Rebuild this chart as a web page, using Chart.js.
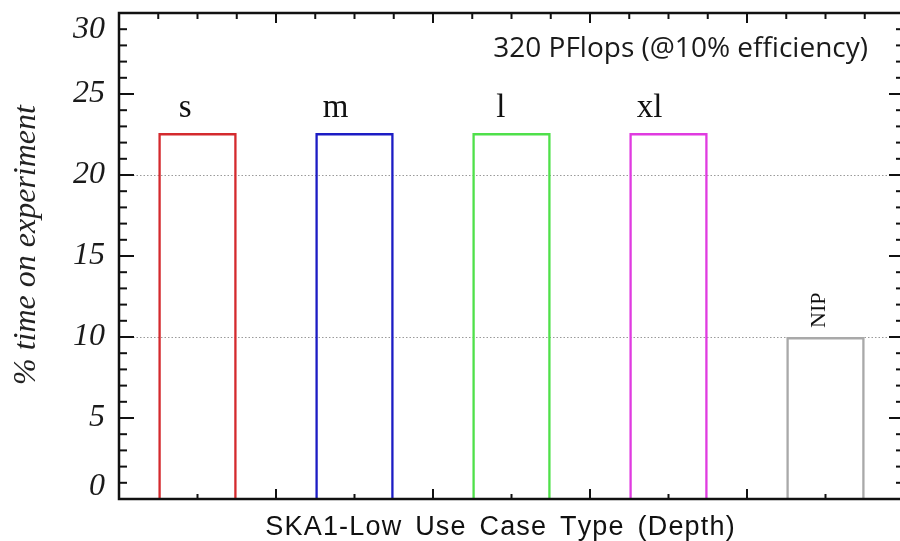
<!DOCTYPE html>
<html>
<head>
<meta charset="utf-8">
<script src="https://cdn.jsdelivr.net/npm/chart.js@4/dist/chart.umd.min.js"></script>
<style>
  html, body { margin: 0; padding: 0; background: #fff; overflow: hidden; }
  #wrap { width: 904px; height: 541px; }
</style>
</head>
<body>
<div id="wrap"><canvas id="c"></canvas></div>
<script>
// Use-case categories and the share of observing time each one takes
const categories = ['s', 'm', 'l', 'xl', 'NIP'];
const timeOnExperiment = [22.6, 22.6, 22.6, 22.6, 10.0];
const barColors = ['#d42a2e', '#1c1cc4', '#4fe04a', '#e03be0', '#a9a9a9'];
const yTickValues = [0, 5, 10, 15, 20, 25, 30];
const dottedGridValues = [10, 20];
const noteText = '320 PFlops (@10% efficiency)';
const xAxisTitle = 'SKA1-Low Use Case Type (Depth)';
const yAxisTitle = '% time on experiment';

const SERIF = '"Liberation Serif", "DejaVu Serif", serif';

// Draw a string one glyph at a time so letters and words can be spread out.
function spacedText(ctx, text, cx, baseline, letterGap, wordGap) {
  const widths = [...text].map(ch => ctx.measureText(ch).width + letterGap + (ch === ' ' ? wordGap : 0));
  const total = widths.reduce((s, w) => s + w, 0) - letterGap;
  let px = cx - total / 2;
  ctx.textAlign = 'left';
  [...text].forEach((ch, i) => { ctx.fillText(ch, px, baseline); px += widths[i]; });
}

// Frame with inward ticks on all four sides, dotted reference lines,
// axis labels, the category labels over the bars and the note in the corner.
const frameAndLabels = {
  id: 'frameAndLabels',
  beforeDatasetsDraw(chart) {
    const { ctx, chartArea: a, scales: { y } } = chart;
    ctx.save();
    ctx.strokeStyle = '#9a9a9a';
    ctx.lineWidth = 1;
    ctx.setLineDash([1.5, 2]);
    dottedGridValues.forEach(v => {
      const py = Math.round(y.getPixelForValue(v)) + 0.5;
      ctx.beginPath(); ctx.moveTo(a.left, py); ctx.lineTo(a.right, py); ctx.stroke();
    });
    ctx.restore();
  },
  afterDatasetsDraw(chart) {
    const { ctx, chartArea: a, scales: { x, y } } = chart;
    ctx.save();
    ctx.strokeStyle = '#111';
    ctx.lineCap = 'butt';

    // y ticks, every unit, longer every 5
    ctx.lineWidth = 2;
    for (let v = 0; v <= 30; v++) {
      const py = y.getPixelForValue(v);
      const len = v % 5 === 0 ? 15 : 8;
      ctx.beginPath(); ctx.moveTo(a.left, py); ctx.lineTo(a.left + len, py); ctx.stroke();
      ctx.beginPath(); ctx.moveTo(a.right, py); ctx.lineTo(a.right - len, py); ctx.stroke();
    }

    // x ticks: quarter steps on top, half steps on bottom
    const n = categories.length;
    for (let k = 0; k <= n * 4; k++) {
      const px = x.getPixelForValue(-0.5 + k / 4);
      const major = k % 4 === 0;
      ctx.beginPath(); ctx.moveTo(px, a.top); ctx.lineTo(px, a.top + (major ? 10 : 6)); ctx.stroke();
      if (k % 2 === 0) {
        ctx.beginPath(); ctx.moveTo(px, a.bottom); ctx.lineTo(px, a.bottom - (major ? 10 : 5)); ctx.stroke();
      }
    }

    // frame
    ctx.lineWidth = 2.5;
    ctx.strokeRect(a.left, a.top, a.right - a.left, a.bottom - a.top);

    // y tick labels; the end labels sit just inside the axis ends
    ctx.fillStyle = '#1a1a1a';
    ctx.font = 'italic 32px ' + SERIF;
    ctx.textAlign = 'right';
    ctx.textBaseline = 'middle';
    yTickValues.forEach(v => {
      const shift = v === y.min ? -12 : (v === y.max ? 17 : 0);
      ctx.fillText(String(v), a.left - 14, y.getPixelForValue(v) + shift);
    });

    // y axis title
    ctx.save();
    ctx.translate(27, 245);
    ctx.rotate(-Math.PI / 2);
    ctx.font = 'italic 32px ' + SERIF;
    ctx.textAlign = 'center';
    ctx.textBaseline = 'middle';
    ctx.fillStyle = '#222';
    ctx.fillText(yAxisTitle, 0, 0);
    ctx.restore();

    // x axis title
    ctx.fillStyle = '#111';
    ctx.textBaseline = 'alphabetic';
    ctx.font = '27px "Liberation Sans", Arial, sans-serif';
    spacedText(ctx, xAxisTitle, 500, 535, 1.2, 4);

    // category labels above the bars
    const meta = chart.getDatasetMeta(0);
    categories.forEach((name, i) => {
      const bar = meta.data[i];
      if (name === 'NIP') {
        ctx.save();
        ctx.translate(bar.x - 6, bar.y - 9);
        ctx.rotate(-Math.PI / 2);
        ctx.font = '22px ' + SERIF;
        ctx.textAlign = 'left';
        ctx.textBaseline = 'middle';
        ctx.fillText(name, 0, 0);
        ctx.restore();
      } else {
        ctx.font = '33px ' + SERIF;
        ctx.textAlign = 'right';
        ctx.fillText(name, bar.x - 6, bar.y - 16);
      }
    });

    // note in the upper right corner
    ctx.font = '28px "Open Sans", Lato, sans-serif';
    ctx.textAlign = 'right';
    ctx.fillStyle = '#1a1a1a';
    ctx.fillText(noteText, 868, 57);
    ctx.restore();
  }
};

new Chart(document.getElementById('c'), {
  type: 'bar',
  data: {
    labels: categories,
    datasets: [{
      data: timeOnExperiment,
      backgroundColor: 'rgba(0,0,0,0)',
      borderColor: barColors,
      borderWidth: 2.5,
      borderSkipped: 'start',
      categoryPercentage: 1,
      barPercentage: 0.5
    }]
  },
  options: {
    responsive: true,
    maintainAspectRatio: false,
    animation: false,
    layout: { padding: { top: 13, right: 0, left: 0, bottom: 0 } },
    plugins: { legend: { display: false }, tooltip: { enabled: false } },
    scales: {
      x: {
        offset: true,
        grid: { display: false, drawTicks: false },
        border: { display: false },
        ticks: { display: false },
        afterFit(scale) { scale.height = 42; }
      },
      y: {
        min: 0,
        max: 30,
        grid: { display: false, drawTicks: false },
        border: { display: false },
        ticks: { display: false, stepSize: 5 },
        afterFit(scale) { scale.width = 119; }
      }
    }
  },
  plugins: [frameAndLabels]
});
</script>
</body>
</html>
